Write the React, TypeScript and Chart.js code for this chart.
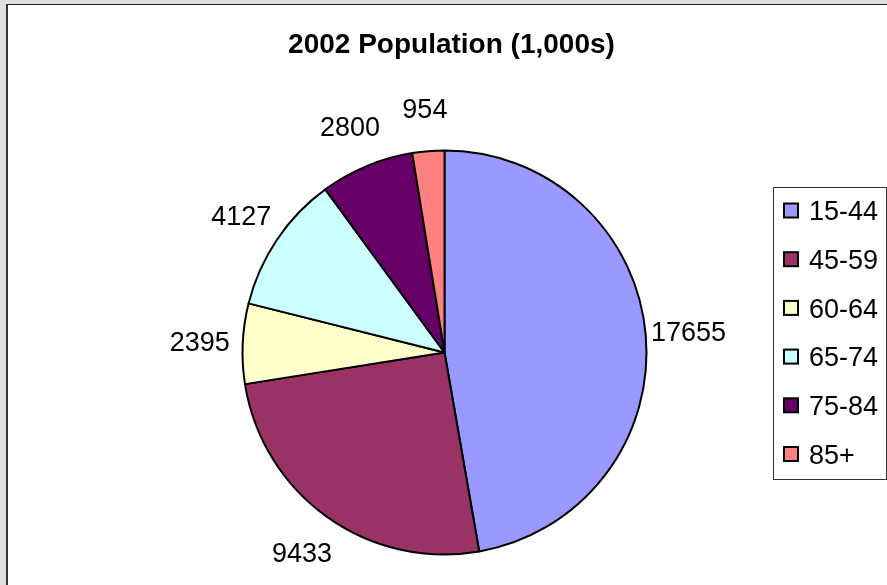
import React, { useEffect, useRef } from "react";
import { Chart, registerables } from "chart.js";

Chart.register(...registerables);

const TITLE = "2002 Population (1,000s)";
const categories = ["15-44", "45-59", "60-64", "65-74", "75-84", "85+"];
const populations = [17655, 9433, 2395, 4127, 2800, 954];
const sliceColors = ["#9999FF", "#993366", "#FFFFCC", "#CCFFFF", "#660066", "#FF8080"];

const FONT = '"Liberation Sans", Arial, sans-serif';

const titlePlugin = {
  id: "excelTitle",
  afterDraw(chart: any) {
    const ctx = chart.ctx;
    ctx.save();
    ctx.font = `bold 28px ${FONT}`;
    ctx.fillStyle = "#000";
    ctx.textAlign = "center";
    ctx.textBaseline = "alphabetic";
    ctx.fillText(TITLE, 443.5, 48);
    ctx.restore();
  },
};

const labelPlugin = {
  id: "pieValueLabels",
  afterDatasetsDraw(chart: any) {
    const ctx = chart.ctx;
    const meta = chart.getDatasetMeta(0);
    const vals = chart.data.datasets[0].data;
    ctx.save();
    ctx.font = `27px ${FONT}`;
    ctx.fillStyle = "#000";
    ctx.textAlign = "center";
    ctx.textBaseline = "alphabetic";
    meta.data.forEach((arc: any, i: number) => {
      const p = arc.getProps(["x", "y", "startAngle", "endAngle", "outerRadius"], true);
      const mid = (p.startAngle + p.endAngle) / 2;
      const d = p.outerRadius + 43;
      const cx = p.x + Math.cos(mid) * d;
      const cy = p.y + Math.sin(mid) * d;
      ctx.fillText(String(vals[i]), cx, cy + 9.7);
    });
    ctx.restore();
  },
};

const legendPlugin = {
  id: "excelLegend",
  afterDraw(chart: any) {
    const ctx = chart.ctx;
    const labels = chart.data.labels;
    const colors = chart.data.datasets[0].backgroundColor;
    ctx.save();
    ctx.fillStyle = "#fff";
    ctx.strokeStyle = "#333";
    ctx.lineWidth = 1;
    ctx.strokeRect(765.5, 182.5, 113, 292);
    ctx.font = `27px ${FONT}`;
    ctx.textAlign = "left";
    ctx.textBaseline = "alphabetic";
    labels.forEach((lab: string, i: number) => {
      const cy = 205.5 + 48.7 * i;
      ctx.fillStyle = colors[i];
      ctx.fillRect(776, cy - 7, 14, 14);
      ctx.strokeStyle = "#000";
      ctx.lineWidth = 2;
      ctx.strokeRect(776, cy - 7, 14, 14);
      ctx.fillStyle = "#000";
      ctx.fillText(lab, 801, cy + 9.7);
    });
    ctx.restore();
  },
};

export default function App() {
  const ref = useRef<HTMLCanvasElement>(null);
  useEffect(() => {
    if (!ref.current) return;
    const chart = new Chart(ref.current, {
      type: "pie",
      data: {
        labels: categories,
        datasets: [
          {
            data: populations,
            backgroundColor: sliceColors,
            borderColor: "#000",
            borderWidth: 2,
          },
        ],
      },
      options: {
        responsive: false,
        animation: false,
        devicePixelRatio: 1,
        radius: 202,
        layout: { padding: { left: 233.5, right: 239.5, top: 144.5, bottom: 29.5 } },
        plugins: {
          legend: { display: false },
          tooltip: { enabled: false },
          title: { display: false },
        },
      } as any,
      plugins: [labelPlugin, legendPlugin, titlePlugin],
    });
    return () => chart.destroy();
  }, []);
  return (
    <div style={{ position: "fixed", left: 0, top: 0, width: 887, height: 585, background: "#dddddd", overflow: "hidden" }}>
      <div
        style={{
          position: "absolute",
          left: 6,
          top: 4,
          width: 881,
          height: 581,
          boxSizing: "border-box",
          borderLeft: "2px solid #333",
          borderTop: "1px solid #222",
          background: "#fff",
        }}
      >
        <canvas ref={ref} width={879} height={580} style={{ display: "block" }} />
      </div>
    </div>
  );
}
